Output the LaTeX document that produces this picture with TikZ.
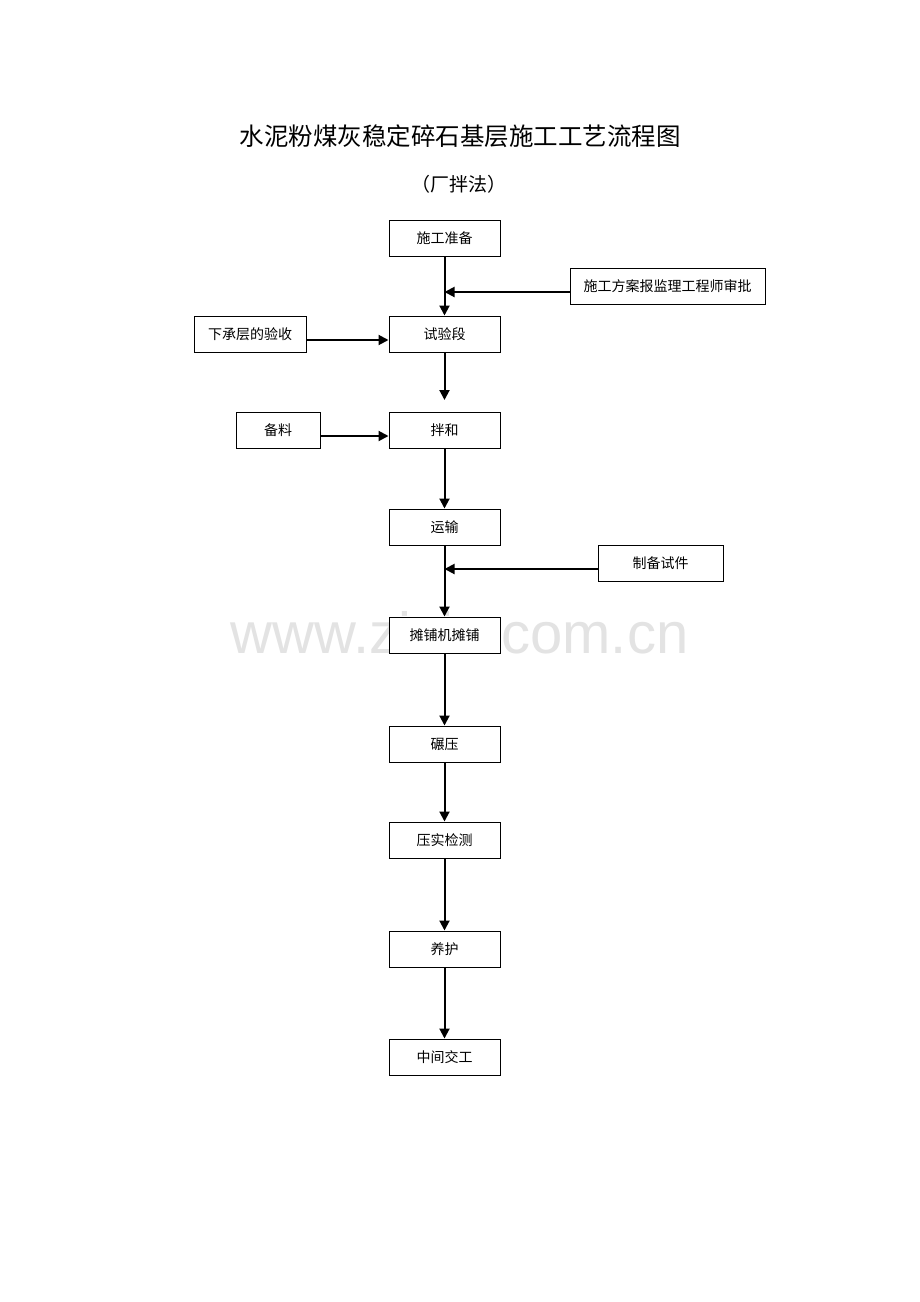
\documentclass[tikz,border=0pt]{standalone}
\usepackage{fontspec}
\setmainfont{Liberation Serif}
\newfontfamily\cjk{Noto Sans CJK SC}
\newfontfamily\wmfont{Liberation Sans}
\usetikzlibrary{arrows.meta}
\definecolor{wmgray}{HTML}{E3E3E3}
\tikzset{
  box/.style={draw=black, line width=1pt, fill=white, minimum height=36pt, inner sep=0pt, font=\cjk\fontsize{14}{16}\selectfont},
  mainbox/.style={box, minimum width=111pt},
  arr/.style={line width=2pt, -{Triangle[width=10pt,length=10pt]}},
}
\begin{document}
\begin{tikzpicture}[x=1pt,y=-1pt]
\useasboundingbox[fill=white] (0,0) rectangle (920,1302);
\node[font=\wmfont\fontsize{58}{60}\selectfont, text=wmgray, anchor=base] (wm) at (459.5,653) {www.zixin.com.cn};
\node[font=\cjk\fontsize{24.5}{28}\selectfont] (title) at (460,136) {水泥粉煤灰稳定碎石基层施工工艺流程图};
\node[font=\cjk\fontsize{19}{22}\selectfont] (sub) at (459,184) {（厂拌法）};

\node[mainbox] (n1) at (444.5,238) {施工准备};
\node[box, minimum width=195pt] (app) at (667.5,286) {施工方案报监理工程师审批};
\node[mainbox] (n2) at (444.5,334) {试验段};
\node[box, minimum width=112pt] (low) at (250,334) {下承层的验收};
\node[mainbox] (n3) at (444.5,430) {拌和};
\node[box, minimum width=84pt] (mat) at (278,430) {备料};
\node[mainbox] (n4) at (444.5,527) {运输};
\node[box, minimum width=125pt] (spec) at (660.5,563) {制备试件};
\node[mainbox] (n5) at (444.5,635) {摊铺机摊铺};
\node[mainbox] (n6) at (444.5,744) {碾压};
\node[mainbox] (n7) at (444.5,840) {压实检测};
\node[mainbox] (n8) at (444.5,949) {养护};
\node[mainbox] (n9) at (444.5,1057) {中间交工};

\coordinate (j1) at (444.5,292);
\coordinate (j2) at (444.5,569);
\coordinate (e23) at (444.5,400);

\draw[arr] (n1.south) -- (n2.north);
\draw[arr] ([yshift=-6pt]app.west) -- (j1);
\draw[arr] ([yshift=-6pt]low.east) -- ([yshift=-6pt]n2.west);
\draw[arr] (n2.south) -- (e23);
\draw[arr] ([yshift=-6pt]mat.east) -- ([yshift=-6pt]n3.west);
\draw[arr] (n3.south) -- (n4.north);
\draw[arr] (n4.south) -- (n5.north);
\draw[arr] ([yshift=-6pt]spec.west) -- (j2);
\draw[arr] (n5.south) -- (n6.north);
\draw[arr] (n6.south) -- (n7.north);
\draw[arr] (n7.south) -- (n8.north);
\draw[arr] (n8.south) -- (n9.north);
\end{tikzpicture}
\end{document}
